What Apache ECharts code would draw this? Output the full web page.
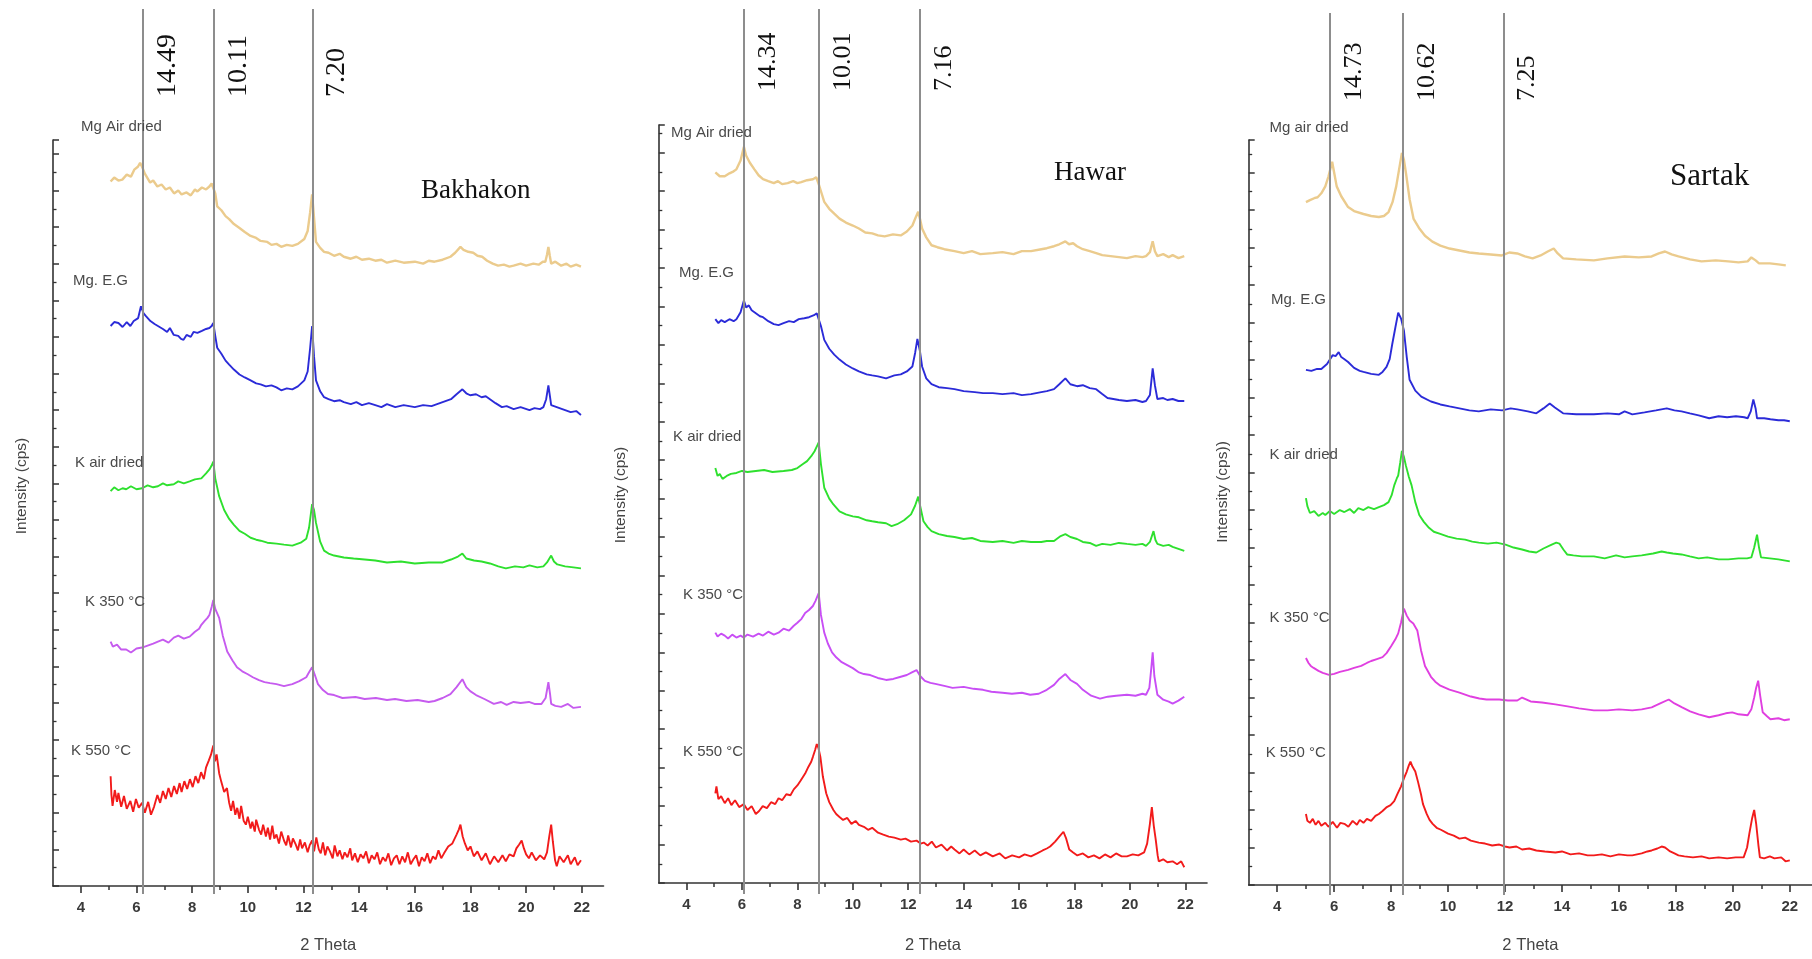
<!DOCTYPE html>
<html><head><meta charset="utf-8">
<script src="https://cdn.jsdelivr.net/npm/echarts@6/dist/echarts.min.js"></script>
<style>html,body{margin:0;padding:0;background:#fff}#c{width:1812px;height:959px}</style>
</head><body><div id="c"></div>
<script>
// ---------- data ----------
const xTicks = [4, 6, 8, 10, 12, 14, 16, 18, 20, 22];
const xMinorTicks = [5, 7, 9, 11, 13, 15, 17, 19, 21];
const xMin = 3, xMax = 22.78;

const seriesNames = ['Mg Air dried', 'Mg. E.G', 'K air dried', 'K 350 °C', 'K 550 °C'];
const sartakNames = ['Mg air dried', 'Mg. E.G', 'K air dried', 'K 350 °C', 'K 550 °C'];
const panelTitles = ['Bakhakon', 'Hawar', 'Sartak'];
const yNames = ['Intensity (cps)', 'Intensity (cps)', 'Intensity (cps))'];

// peak positions (2 Theta) and d-spacing labels
const bakPeaks = [6.24, 8.79, 12.32];
const bakPeakLabels = ['14.49', '10.11', '7.20'];
const hawPeaks = [6.07, 8.77, 12.43];
const hawPeakLabels = ['14.34', '10.01', '7.16'];
const sarPeaks = [5.86, 8.41, 11.95];
const sarPeakLabels = ['14.73', '10.62', '7.25'];

// ----- Bakhakon -----
const bakMgAir = [[5.07,712],[5.2,716],[5.35,713],[5.49,714],[5.65,719],[5.8,717],[5.92,724],[6.05,727],[6.13,731],[6.2,727],[6.3,720],[6.49,711],[6.6,713],[6.75,707],[6.9,709],[7.05,704],[7.2,706],[7.35,700],[7.5,703],[7.62,699],[7.8,701],[7.95,698],[8.1,704],[8.19,702],[8.35,706],[8.5,704],[8.62,707],[8.7,710],[8.76,712],[8.83,700],[8.9,687],[9.05,683],[9.2,677],[9.33,674],[9.5,669],[9.7,665],[9.89,661],[10.1,657],[10.3,655],[10.46,652],[10.7,651],[10.85,648],[11.03,649],[11.2,646],[11.4,648],[11.6,647],[11.8,649],[12.03,654],[12.15,662],[12.24,681],[12.31,699],[12.38,675],[12.45,651],[12.6,645],[12.74,641],[12.9,640],[13.1,637],[13.3,639],[13.45,636],[13.7,634],[13.9,636],[14.1,633],[14.35,634],[14.58,632],[14.8,633],[15.0,630],[15.3,632],[15.6,630],[16.0,631],[16.3,629],[16.5,632],[16.71,631],[17.0,633],[17.28,636],[17.45,640],[17.64,646],[17.75,643],[17.92,641],[18.1,640],[18.25,637],[18.42,636],[18.6,632],[18.8,629],[18.99,627],[19.2,628],[19.4,626],[19.55,627],[19.8,629],[20.0,627],[20.26,629],[20.45,628],[20.6,631],[20.69,631],[20.75,638],[20.8,646],[20.85,637],[20.9,629],[21.05,631],[21.26,627],[21.45,629],[21.6,626],[21.8,628],[21.97,626]];
const bakMgEG = [[5.07,566],[5.2,570],[5.35,569],[5.5,565],[5.65,570],[5.78,566],[5.9,571],[6.06,574],[6.16,586],[6.25,579],[6.34,576],[6.5,571],[6.65,568],[6.77,566],[6.95,563],[7.1,560],[7.2,564],[7.34,557],[7.5,556],[7.6,553],[7.69,552],[7.8,557],[7.95,555],[8.05,560],[8.19,559],[8.35,561],[8.5,563],[8.62,564],[8.7,566],[8.76,569],[8.83,556],[8.9,544],[9.05,538],[9.2,531],[9.33,527],[9.5,522],[9.7,517],[9.89,514],[10.1,511],[10.3,508],[10.46,507],[10.65,505],[10.85,506],[11.03,504],[11.2,501],[11.4,503],[11.6,502],[11.8,505],[12.03,511],[12.15,520],[12.24,544],[12.31,566],[12.38,535],[12.45,511],[12.6,500],[12.74,494],[12.9,492],[13.1,490],[13.3,491],[13.45,489],[13.7,487],[13.9,489],[14.1,486],[14.35,488],[14.58,486],[14.8,484],[15.0,487],[15.3,484],[15.6,486],[16.0,484],[16.3,486],[16.6,485],[17.0,489],[17.3,492],[17.5,497],[17.71,502],[17.85,498],[17.99,496],[18.2,497],[18.4,494],[18.55,495],[18.7,492],[18.9,488],[19.13,484],[19.3,485],[19.55,482],[19.8,484],[20.12,481],[20.3,483],[20.5,482],[20.62,484],[20.72,492],[20.8,506],[20.86,494],[20.9,486],[21.1,484],[21.4,481],[21.6,479],[21.8,480],[21.97,476]];
const bakKAir = [[5.07,399],[5.2,403],[5.35,400],[5.5,402],[5.63,401],[5.8,404],[6.0,401],[6.2,402],[6.4,405],[6.6,403],[6.77,404],[6.95,407],[7.1,405],[7.34,406],[7.5,409],[7.7,407],[7.91,409],[8.1,411],[8.33,412],[8.5,417],[8.62,421],[8.7,425],[8.76,429],[8.83,412],[8.97,394],[9.15,380],[9.33,371],[9.5,365],[9.7,359],[9.89,356],[10.1,352],[10.3,350],[10.46,349],[10.7,347],[11.03,346],[11.3,345],[11.6,344],[11.9,347],[12.1,351],[12.2,362],[12.31,386],[12.38,380],[12.45,367],[12.6,348],[12.74,339],[12.9,336],[13.1,334],[13.45,332],[13.8,331],[14.2,330],[14.58,329],[15.0,327],[15.5,328],[16.0,326],[16.5,327],[17.0,327],[17.3,330],[17.55,333],[17.71,336],[17.85,331],[18.13,329],[18.4,328],[18.7,326],[19.0,323],[19.27,321],[19.6,323],[19.9,322],[20.12,324],[20.4,322],[20.62,323],[20.75,327],[20.9,334],[21.0,328],[21.12,325],[21.4,323],[21.7,322],[21.97,321]];
const bakK350 = [[5.07,247],[5.15,242],[5.3,244],[5.45,239],[5.63,239],[5.8,236],[6.0,240],[6.2,241],[6.4,243],[6.6,245],[6.77,247],[6.95,249],[7.15,246],[7.34,251],[7.5,253],[7.7,250],[7.91,252],[8.1,257],[8.25,260],[8.33,264],[8.45,268],[8.55,271],[8.62,274],[8.7,282],[8.76,289],[8.83,280],[8.97,271],[9.1,253],[9.26,237],[9.45,228],[9.61,221],[9.8,217],[10.0,214],[10.18,211],[10.4,208],[10.6,206],[10.8,205],[11.03,204],[11.3,202],[11.6,204],[11.85,207],[12.1,211],[12.2,216],[12.31,221],[12.4,214],[12.52,204],[12.7,198],[12.88,194],[13.1,193],[13.4,190],[13.87,191],[14.2,189],[14.6,190],[15.0,188],[15.29,189],[15.7,187],[16.1,188],[16.5,186],[16.71,187],[17.0,190],[17.28,194],[17.5,201],[17.71,209],[17.85,201],[17.99,197],[18.2,193],[18.5,189],[18.84,184],[19.1,186],[19.3,183],[19.55,186],[19.8,185],[20.1,186],[20.3,184],[20.55,184],[20.7,190],[20.8,206],[20.86,194],[20.9,184],[21.05,182],[21.26,181],[21.5,184],[21.7,180],[21.97,181]];
const bakK550 = [[5.07,111],[5.1,92],[5.14,81],[5.22,97],[5.3,85],[5.35,94],[5.45,80],[5.55,91],[5.65,78],[5.78,86],[5.88,75],[5.98,88],[6.08,79],[6.2,84],[6.3,74],[6.42,85],[6.52,72],[6.63,80],[6.75,92],[6.85,84],[6.95,96],[7.05,88],[7.15,99],[7.25,90],[7.35,101],[7.45,93],[7.55,104],[7.62,95],[7.72,106],[7.82,98],[7.92,108],[8.02,100],[8.12,111],[8.22,104],[8.32,115],[8.42,108],[8.5,120],[8.6,127],[8.68,133],[8.76,142],[8.82,126],[8.88,133],[8.97,114],[9.05,105],[9.15,95],[9.25,99],[9.33,84],[9.4,76],[9.47,86],[9.55,72],[9.62,79],[9.7,68],[9.76,81],[9.85,66],[9.93,62],[10.0,70],[10.1,58],[10.16,65],[10.25,55],[10.3,67],[10.4,57],[10.48,52],[10.55,62],[10.65,50],[10.72,59],[10.8,47],[10.88,61],[10.95,48],[11.03,52],[11.12,43],[11.2,55],[11.3,46],[11.38,41],[11.45,51],[11.55,39],[11.62,48],[11.72,42],[11.8,36],[11.88,47],[11.95,38],[12.05,44],[12.15,34],[12.22,41],[12.31,46],[12.38,35],[12.46,49],[12.55,37],[12.62,33],[12.7,44],[12.78,31],[12.86,40],[12.95,35],[13.05,28],[13.12,41],[13.22,30],[13.3,36],[13.4,27],[13.48,34],[13.58,29],[13.68,38],[13.75,26],[13.85,33],[13.95,24],[14.05,32],[14.15,28],[14.25,35],[14.35,23],[14.45,31],[14.55,27],[14.65,34],[14.75,22],[14.85,29],[14.95,25],[15.05,33],[15.15,21],[15.25,28],[15.35,31],[15.45,22],[15.55,30],[15.65,24],[15.75,34],[15.85,22],[15.95,27],[16.05,31],[16.15,20],[16.25,29],[16.35,25],[16.45,33],[16.55,23],[16.65,30],[16.75,27],[16.85,36],[16.95,28],[17.05,33],[17.2,40],[17.35,43],[17.5,52],[17.58,57],[17.64,62],[17.72,50],[17.8,43],[17.9,36],[18.0,40],[18.12,30],[18.25,35],[18.4,26],[18.55,33],[18.7,22],[18.85,30],[19.0,24],[19.15,31],[19.27,25],[19.4,32],[19.55,30],[19.65,38],[19.75,42],[19.84,46],[19.92,38],[20.0,32],[20.1,28],[20.2,34],[20.35,26],[20.5,31],[20.65,27],[20.75,34],[20.83,50],[20.9,62],[20.96,45],[21.04,26],[21.1,20],[21.2,30],[21.35,24],[21.5,31],[21.6,22],[21.75,29],[21.85,21],[21.97,26]];

// ----- Hawar -----
const hawMgAir = [[5.04,721],[5.2,717],[5.38,717],[5.55,720],[5.7,722],[5.8,724],[5.95,733],[6.07,747],[6.15,738],[6.28,731],[6.45,724],[6.6,718],[6.76,714],[6.95,712],[7.15,710],[7.3,712],[7.45,709],[7.65,710],[7.85,712],[8.0,710],[8.14,711],[8.35,713],[8.56,714],[8.68,716],[8.77,709],[8.87,700],[8.97,691],[9.15,684],[9.33,679],[9.52,674],[9.75,670],[10.0,667],[10.22,664],[10.45,660],[10.7,659],[10.91,657],[11.15,656],[11.45,658],[11.73,657],[11.95,661],[12.15,667],[12.28,676],[12.36,681],[12.43,673],[12.5,664],[12.65,655],[12.84,647],[13.05,645],[13.3,643],[13.67,641],[14.0,639],[14.3,641],[14.6,638],[15.05,639],[15.4,640],[15.8,638],[16.1,641],[16.43,641],[16.8,643],[17.0,644],[17.26,646],[17.45,648],[17.67,651],[17.8,648],[17.95,649],[18.09,646],[18.3,643],[18.55,641],[18.78,639],[19.0,637],[19.3,636],[19.6,635],[19.89,634],[20.2,636],[20.45,635],[20.58,636],[20.72,640],[20.82,651],[20.9,641],[20.99,636],[21.2,638],[21.4,635],[21.54,637],[21.75,634],[21.96,636]];
const hawMgEG = [[5.04,572],[5.15,568],[5.25,571],[5.38,569],[5.55,572],[5.7,570],[5.8,572],[5.95,579],[6.07,591],[6.15,584],[6.25,586],[6.35,581],[6.5,578],[6.65,575],[6.76,574],[6.95,570],[7.15,567],[7.32,566],[7.5,568],[7.7,570],[7.87,569],[8.05,572],[8.25,573],[8.42,574],[8.6,576],[8.7,578],[8.77,579],[8.85,565],[8.97,551],[9.15,542],[9.33,536],[9.52,531],[9.75,526],[10.0,522],[10.22,519],[10.5,516],[10.7,515],[10.91,514],[11.2,512],[11.5,515],[11.73,516],[11.95,519],[12.15,524],[12.25,538],[12.33,552],[12.42,540],[12.5,524],[12.65,512],[12.84,506],[13.1,503],[13.4,502],[13.67,501],[14.0,499],[14.4,498],[14.7,497],[15.05,497],[15.4,496],[15.8,497],[16.1,495],[16.43,496],[16.8,498],[17.0,499],[17.26,501],[17.45,506],[17.67,512],[17.85,506],[18.09,504],[18.3,505],[18.55,502],[18.78,501],[19.0,496],[19.19,492],[19.4,491],[19.6,490],[19.89,489],[20.2,490],[20.45,488],[20.58,489],[20.72,495],[20.82,522],[20.9,505],[20.99,491],[21.2,492],[21.35,490],[21.54,491],[21.75,489],[21.96,489]];
const hawKAir = [[5.04,421],[5.12,413],[5.2,415],[5.3,410],[5.45,413],[5.6,415],[5.8,416],[6.0,418],[6.2,417],[6.5,418],[6.8,419],[7.1,417],[7.5,418],[7.8,419],[8.0,421],[8.2,425],[8.35,428],[8.5,433],[8.62,438],[8.72,444],[8.77,447],[8.85,425],[8.97,401],[9.15,390],[9.3,384],[9.52,377],[9.75,374],[10.0,372],[10.22,371],[10.5,368],[10.7,367],[10.91,366],[11.2,365],[11.4,362],[11.6,364],[11.85,368],[12.1,374],[12.25,383],[12.36,392],[12.45,380],[12.55,367],[12.7,361],[12.84,357],[13.1,354],[13.4,352],[13.67,351],[14.0,349],[14.3,350],[14.6,347],[15.05,346],[15.4,347],[15.8,345],[16.1,347],[16.43,346],[16.8,346],[17.0,347],[17.26,347],[17.5,352],[17.67,354],[17.85,351],[18.09,349],[18.3,346],[18.55,345],[18.78,342],[19.0,344],[19.3,343],[19.6,345],[19.89,344],[20.2,343],[20.45,344],[20.58,342],[20.72,346],[20.85,357],[20.92,348],[20.99,344],[21.2,342],[21.4,343],[21.54,341],[21.75,339],[21.96,337]];
const hawK350 = [[5.04,254],[5.12,250],[5.25,253],[5.38,251],[5.5,248],[5.65,252],[5.8,249],[5.95,251],[6.07,249],[6.2,252],[6.4,250],[6.6,253],[6.76,251],[6.95,255],[7.15,252],[7.32,254],[7.5,258],[7.7,256],[7.87,261],[8.0,264],[8.15,268],[8.28,274],[8.42,277],[8.56,281],[8.65,286],[8.77,294],[8.85,272],[8.97,254],[9.1,243],[9.25,234],[9.4,229],[9.6,224],[9.8,221],[10.0,218],[10.2,214],[10.4,212],[10.63,211],[10.9,208],[11.2,206],[11.46,207],[11.7,209],[11.95,211],[12.15,214],[12.3,216],[12.43,210],[12.6,205],[12.8,203],[12.98,202],[13.3,200],[13.6,198],[14.0,199],[14.36,197],[14.7,196],[15.0,194],[15.4,193],[15.74,192],[16.1,193],[16.4,191],[16.71,192],[17.0,196],[17.26,201],[17.45,207],[17.67,212],[17.85,206],[18.09,202],[18.3,196],[18.6,190],[18.92,187],[19.2,189],[19.5,190],[19.89,191],[20.2,190],[20.45,192],[20.58,191],[20.7,198],[20.77,218],[20.82,234],[20.88,210],[20.99,191],[21.2,186],[21.4,184],[21.54,182],[21.75,185],[21.96,189]];
const hawK550 = [[5.04,91],[5.08,98],[5.15,85],[5.25,88],[5.38,81],[5.5,86],[5.62,79],[5.75,84],[5.9,77],[6.07,80],[6.2,74],[6.35,78],[6.5,70],[6.62,73],[6.75,78],[6.9,76],[7.05,82],[7.2,80],[7.32,86],[7.45,84],[7.6,90],[7.75,89],[7.87,95],[8.0,99],[8.12,104],[8.28,111],[8.4,118],[8.5,123],[8.56,128],[8.64,135],[8.7,141],[8.76,137],[8.83,128],[8.92,108],[9.04,91],[9.15,82],[9.3,74],[9.4,70],[9.52,67],[9.65,64],[9.8,66],[9.95,60],[10.1,63],[10.22,59],[10.4,57],[10.55,54],[10.7,56],[10.91,51],[11.1,49],[11.3,47],[11.5,46],[11.73,44],[11.9,45],[12.1,42],[12.3,43],[12.45,40],[12.56,41],[12.7,38],[12.85,42],[13.0,36],[13.2,39],[13.4,33],[13.55,37],[13.67,34],[13.85,30],[14.0,34],[14.2,29],[14.4,33],[14.6,28],[14.8,31],[15.05,27],[15.3,30],[15.5,25],[15.75,28],[16.0,26],[16.2,29],[16.43,27],[16.65,30],[16.85,33],[17.0,35],[17.12,37],[17.3,42],[17.45,47],[17.6,52],[17.7,45],[17.81,34],[17.95,31],[18.1,28],[18.3,30],[18.5,26],[18.7,28],[18.9,25],[19.1,29],[19.3,26],[19.5,30],[19.7,27],[19.89,27],[20.1,29],[20.3,28],[20.51,31],[20.62,40],[20.72,60],[20.79,77],[20.86,58],[20.93,44],[21.0,28],[21.04,22],[21.2,24],[21.35,21],[21.54,22],[21.7,19],[21.85,22],[21.96,16]];

// ----- Sartak -----
const sarMgAir = [[5.01,692],[5.15,694],[5.3,696],[5.42,697],[5.55,701],[5.69,708],[5.8,718],[5.93,733],[6.0,722],[6.09,708],[6.25,698],[6.49,687],[6.7,683],[7.03,680],[7.3,678],[7.57,677],[7.75,678],[7.91,682],[8.05,692],[8.18,708],[8.28,725],[8.38,742],[8.45,735],[8.52,722],[8.65,695],[8.79,675],[9.0,665],[9.19,658],[9.45,652],[9.73,648],[10.05,645],[10.4,643],[10.75,641],[11.08,640],[11.5,639],[11.89,638],[12.15,641],[12.43,640],[12.7,637],[12.97,635],[13.25,638],[13.5,642],[13.71,645],[13.85,640],[14.04,635],[14.5,634],[15.12,633],[15.6,635],[16.2,637],[16.7,636],[17.15,637],[17.4,640],[17.62,642],[17.85,639],[18.09,637],[18.5,634],[18.9,632],[19.4,633],[19.84,632],[20.2,631],[20.52,632],[20.65,636],[20.72,638],[20.8,633],[20.92,630],[21.3,630],[21.6,629],[21.86,628]];
const sarMgEG = [[5.01,522],[5.2,521],[5.4,523],[5.55,523],[5.75,528],[5.95,537],[6.05,536],[6.16,540],[6.25,535],[6.35,533],[6.49,530],[6.7,524],[6.9,521],[7.03,520],[7.3,518],[7.57,517],[7.7,520],[7.84,525],[7.95,533],[8.04,548],[8.15,565],[8.25,580],[8.35,574],[8.45,562],[8.55,535],[8.65,512],[8.85,501],[9.06,495],[9.4,490],[9.73,487],[10.05,485],[10.4,483],[10.75,481],[11.08,480],[11.5,482],[11.9,481],[12.2,483],[12.43,482],[12.8,480],[13.1,478],[13.35,483],[13.57,488],[13.75,484],[14.04,478],[14.5,477],[15.12,477],[15.6,478],[16.0,477],[16.2,480],[16.47,477],[16.9,479],[17.3,481],[17.68,483],[17.95,481],[18.2,480],[18.49,478],[18.8,476],[19.17,473],[19.5,475],[19.8,474],[20.11,475],[20.4,474],[20.52,473],[20.63,480],[20.72,492],[20.8,483],[20.85,473],[21.1,473],[21.32,472],[21.6,471],[21.8,471],[22.0,470]];
const sarKAir = [[5.01,392],[5.06,384],[5.15,377],[5.3,379],[5.45,374],[5.6,377],[5.69,375],[5.85,379],[6.0,376],[6.2,380],[6.36,378],[6.55,381],[6.7,377],[6.85,382],[7.03,380],[7.2,383],[7.4,381],[7.57,383],[7.75,385],[7.91,388],[8.02,395],[8.11,405],[8.2,412],[8.25,415],[8.32,428],[8.38,440],[8.45,434],[8.52,425],[8.62,414],[8.72,405],[8.85,388],[8.99,375],[9.15,368],[9.33,362],[9.5,358],[9.7,356],[10.0,353],[10.3,351],[10.6,350],[10.85,348],[11.08,347],[11.4,346],[11.7,347],[12.02,345],[12.3,342],[12.6,340],[12.85,338],[13.1,337],[13.35,341],[13.64,345],[13.8,347],[13.91,346],[14.05,340],[14.18,335],[14.4,334],[14.7,333],[15.12,333],[15.5,331],[15.9,334],[16.2,332],[16.47,333],[16.8,334],[17.2,336],[17.5,338],[17.68,337],[17.9,336],[18.2,335],[18.49,333],[18.8,331],[19.1,332],[19.5,330],[19.84,330],[20.2,331],[20.5,331],[20.65,332],[20.75,342],[20.85,355],[20.92,342],[20.99,332],[21.3,331],[21.6,330],[21.8,329],[22.0,328]];
const sarK350 = [[5.01,230],[5.1,225],[5.18,222],[5.28,220],[5.45,217],[5.6,215],[5.82,213],[6.0,214],[6.2,216],[6.49,218],[6.7,220],[6.95,222],[7.15,225],[7.3,227],[7.5,229],[7.7,231],[7.84,235],[8.0,242],[8.15,249],[8.25,255],[8.35,266],[8.45,280],[8.55,273],[8.65,268],[8.78,265],[8.92,258],[9.05,238],[9.19,222],[9.4,211],[9.55,206],[9.73,202],[10.05,198],[10.4,195],[10.8,191],[11.1,189],[11.35,188],[11.8,188],[12.1,187],[12.43,187],[12.6,190],[12.9,186],[13.3,185],[13.77,183],[14.2,181],[14.6,179],[15.12,177],[15.6,177],[16.0,178],[16.47,177],[16.8,178],[17.15,180],[17.45,184],[17.75,188],[17.95,184],[18.22,180],[18.5,176],[18.8,173],[19.17,170],[19.5,172],[19.75,174],[19.98,175],[20.2,173],[20.52,172],[20.65,178],[20.75,190],[20.82,200],[20.89,207],[20.96,192],[21.05,175],[21.2,171],[21.32,168],[21.6,169],[21.8,167],[22.0,168]];
const sarK550 = [[5.01,72],[5.06,65],[5.15,63],[5.25,67],[5.35,61],[5.45,65],[5.55,60],[5.69,63],[5.8,59],[5.95,64],[6.1,58],[6.22,63],[6.36,62],[6.5,59],[6.65,65],[6.8,61],[6.9,66],[7.03,63],[7.15,67],[7.3,65],[7.45,70],[7.57,72],[7.7,75],[7.85,79],[7.98,81],[8.11,85],[8.22,92],[8.35,100],[8.45,108],[8.55,115],[8.62,121],[8.68,125],[8.75,120],[8.85,115],[8.95,104],[9.05,92],[9.12,82],[9.25,72],[9.35,66],[9.46,62],[9.6,58],[9.75,56],[10.0,52],[10.2,50],[10.4,47],[10.6,48],[10.8,45],[11.08,43],[11.3,42],[11.55,40],[11.8,41],[12.0,39],[12.16,38],[12.4,39],[12.6,36],[12.85,37],[13.1,35],[13.4,34],[13.77,33],[14.0,34],[14.3,31],[14.6,32],[14.9,30],[15.12,30],[15.4,31],[15.7,29],[16.0,31],[16.3,30],[16.47,30],[16.8,32],[17.0,34],[17.15,35],[17.35,37],[17.5,39],[17.62,38],[17.8,34],[17.95,32],[18.09,30],[18.3,29],[18.6,28],[18.9,29],[19.17,27],[19.5,28],[19.8,27],[20.1,28],[20.38,28],[20.5,38],[20.58,52],[20.68,68],[20.75,76],[20.82,62],[20.9,40],[20.95,28],[21.1,27],[21.3,29],[21.46,27],[21.7,28],[21.85,24],[22.0,25]];

// ---------- layout / style ----------
const panels = [
  { title: panelTitles[0], names: seriesNames, yName: yNames[0],
    data: [bakMgAir, bakMgEG, bakKAir, bakK350, bakK550],
    peaks: bakPeaks, peakLabels: bakPeakLabels,
    colors: ['#EBCB8D', '#2B2BD8', '#2EE02E', '#C65BEF', '#F21B1B'],
    L: { left: 53, right: 603.5, dataTop: 140, overTop: 9, bottom: 894, yInt: 37,
         yNameX: 22, yNameY: 486, titleLeft: 421, titleTop: 175, titleSize: 27, xNameGap: 51,
         peakBase: 97, peakFont: 28,
         labels: [[81,127],[73,281],[75,463],[85,602],[71,751]] } },
  { title: panelTitles[1], names: seriesNames, yName: yNames[1],
    data: [hawMgAir, hawMgEG, hawKAir, hawK350, hawK550],
    peaks: hawPeaks, peakLabels: hawPeakLabels,
    colors: ['#EBCB8D', '#2B2BD8', '#2EE02E', '#C84EF5', '#F21B1B'],
    L: { left: 658.8, right: 1207, dataTop: 125, overTop: 9, bottom: 894, yInt: 39,
         yNameX: 621, yNameY: 495, titleLeft: 1054, titleTop: 157, titleSize: 27, xNameGap: 54,
         peakBase: 91, peakFont: 26,
         labels: [[671,133],[679,273],[673,437],[683,595],[683,752]] } },
  { title: panelTitles[2], names: sartakNames, yName: yNames[2],
    data: [sarMgAir, sarMgEG, sarKAir, sarK350, sarK550],
    peaks: sarPeaks, peakLabels: sarPeakLabels,
    colors: ['#EBCB8D', '#2B2BD8', '#2EE02E', '#E03FE0', '#F21B1B'],
    L: { left: 1248.7, right: 1812, dataTop: 140, overTop: 13, bottom: 895, yInt: 38,
         yNameX: 1223, yNameY: 492, titleLeft: 1670, titleTop: 159, titleSize: 31, xNameGap: 52,
         peakBase: 101, peakFont: 26,
         labels: [[1269.5,128],[1271,300],[1269.5,455],[1269.5,618],[1265.7,753]] } }
];

const axisColor = '#333';
const option = { animation: false, backgroundColor: '#fff',
  grid: [], xAxis: [], yAxis: [], series: [], title: [] };
const overAxisIdx = [];

panels.forEach(p => {
  const L = p.L;
  const w = L.right - L.left;
  const hData = L.bottom - L.dataTop;
  const hOver = L.bottom - L.overTop;
  const gData = option.grid.length;
  option.grid.push({ left: L.left, top: L.dataTop, width: w, height: hData });
  const gOver = option.grid.length;
  option.grid.push({ left: L.left, top: L.overTop, width: w, height: hOver });

  const xData = option.xAxis.length;
  option.xAxis.push({ type: 'value', gridIndex: gData, min: xMin, max: xMax, position: 'bottom',
    axisLine: { show: true, onZero: false, lineStyle: { color: axisColor, width: 1.6 } },
    axisTick: { show: true, customValues: xTicks, length: 7, lineStyle: { color: axisColor, width: 1.6 } },
    axisLabel: { show: true, customValues: xTicks, margin: 14, color: '#3a3a3a', fontSize: 15,
      fontWeight: 'bold', fontFamily: 'Liberation Sans' },
    splitLine: { show: false },
    name: '2 Theta', nameLocation: 'middle', nameGap: L.xNameGap,
    nameTextStyle: { color: '#444', fontSize: 16.5, fontFamily: 'Liberation Sans' } });
  option.xAxis.push({ type: 'value', gridIndex: gData, min: xMin, max: xMax, position: 'bottom',
    axisLine: { show: false },
    axisTick: { show: true, customValues: xMinorTicks, length: 4, lineStyle: { color: axisColor, width: 1.5 } },
    axisLabel: { show: false }, splitLine: { show: false } });
  const xOver = option.xAxis.length;
  overAxisIdx.push(xOver);
  option.xAxis.push({ type: 'value', gridIndex: gOver, min: xMin, max: xMax, show: false });

  const yData = option.yAxis.length;
  option.yAxis.push({ type: 'value', gridIndex: gData, min: 0, max: hData, interval: L.yInt,
    axisLine: { show: true, lineStyle: { color: axisColor, width: 1.6 } },
    axisTick: { show: true, inside: true, length: 6, lineStyle: { color: axisColor, width: 1.5 } },
    minorTick: { show: true, splitNumber: 2, length: 3.5, lineStyle: { color: axisColor, width: 1.3 } },
    axisLabel: { show: false }, splitLine: { show: false } });
  const yOver = option.yAxis.length;
  option.yAxis.push({ type: 'value', gridIndex: gOver, min: 0, max: hOver, show: false });

  // traces
  p.data.forEach((d, i) => {
    option.series.push({ type: 'line', name: p.title + ' ' + p.names[i], xAxisIndex: xData, yAxisIndex: yData,
      data: d, showSymbol: false, symbol: 'none', smooth: false, silent: true,
      lineStyle: { color: p.colors[i], width: i === 0 ? 2.4 : 1.9 } });
  });

  // vertical peak lines
  option.series.push({ type: 'line', xAxisIndex: xOver, yAxisIndex: yOver, silent: true,
    data: [], symbol: 'none',
    markLine: { silent: true, symbol: ['none', 'none'], label: { show: false },
      lineStyle: { color: '#8d8d8d', width: 2, type: 'solid' },
      data: p.peaks.map(x => ({ xAxis: x })) } });

  // panel title
  option.title.push({ text: p.title, left: L.titleLeft, top: L.titleTop, padding: 0,
    textStyle: { fontFamily: 'Liberation Serif', fontSize: L.titleSize, fontWeight: 'normal',
      color: '#111', lineHeight: L.titleSize + 4 } });
  // series name labels
  p.names.forEach((n, i) => {
    option.title.push({ text: n, left: L.labels[i][0], top: L.labels[i][1] - 9, padding: 0,
      textStyle: { fontFamily: 'Liberation Sans', fontSize: 15, fontWeight: 'normal',
        color: '#4a4a4a', lineHeight: 18 } });
  });
});

const chart = echarts.init(document.getElementById('c'), null, { renderer: 'canvas' });
chart.setOption(option);

// texts: y-axis names and d-spacing labels placed beside the peak lines (positions via the axis scale)
const graphics = [];
panels.forEach((p, pi) => {
  const L = p.L;
  graphics.push({ type: 'text', x: L.yNameX, y: L.yNameY, rotation: Math.PI / 2,
    style: { text: p.yName, font: '15.5px "Liberation Sans"', fill: '#444',
      align: 'center', verticalAlign: 'middle', textAlign: 'center', textVerticalAlign: 'middle' } });
  p.peaks.forEach((x, i) => {
    const px = chart.convertToPixel({ xAxisIndex: overAxisIdx[pi] }, x);
    graphics.push({ type: 'text', x: px + 24, y: L.peakBase, rotation: Math.PI / 2,
      style: { text: p.peakLabels[i], font: L.peakFont + 'px "Liberation Serif"', fill: '#111',
        align: 'left', verticalAlign: 'middle', textAlign: 'left', textVerticalAlign: 'middle' } });
  });
});
chart.setOption({ graphic: graphics });
</script>
</body></html>
